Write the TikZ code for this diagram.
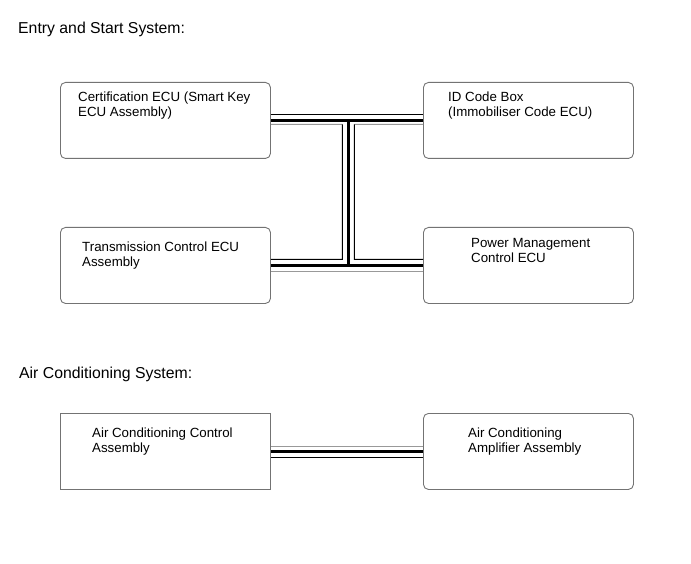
\documentclass[tikz,border=0pt]{standalone}
\usepackage{fontspec}
\setmainfont{Liberation Sans}
\usetikzlibrary{calc}

\begin{document}
\begin{tikzpicture}[x=1pt, y=-1pt,
  box/.style={draw=black!55, line width=0.9pt, rounded corners=5pt,
    minimum width=210pt, minimum height=76pt, anchor=north west, inner sep=0pt},
  lbl/.style={anchor=base west, align=left, inner sep=0pt,
    font=\fontsize{13.3}{15}\selectfont},
  ttl/.style={anchor=base west, inner sep=0pt, font=\fontsize{15.8}{18}\selectfont},
  wire/.style={line width=1pt, black},
  gwire/.style={line width=1pt, black!40},
  trunk/.style={line width=3.5pt, black}]
\useasboundingbox (0,0) rectangle (691,564);

% headings
\node[ttl] (essys) at (18,34) {Entry and Start System:};
\node[ttl] (acsys) at (19,378) {Air Conditioning System:};

% ECU boxes
\node[box] (cert) at (60,82) {};
\node[box] (idbox) at (423,82) {};
\node[box] (tcm) at (60,227) {};
\node[box] (pmecu) at (423,227) {};
\node[box, sharp corners] (acctrl) at (60,413) {};
\node[box] (acamp) at (423,413) {};

% box texts (base = last line)
\node[lbl] (certtxt) at (78,117) {Certification ECU (Smart Key\\ECU Assembly)};
\node[lbl] (idtxt) at (448,117) {ID Code Box\\(Immobiliser Code ECU)};
\node[lbl] (tcmtxt) at (82,267) {Transmission Control ECU\\Assembly};
\node[lbl] (pmtxt) at (471,263) {Power Management\\Control ECU};
\node[lbl] (acctrltxt) at (92,452) {Air Conditioning Control\\Assembly};
\node[lbl] (acamptxt) at (468,452) {Air Conditioning\\Amplifier Assembly};

% bus lines
\coordinate (jt) at ($(cert.east)!0.51!(idbox.west)$);
\coordinate (jb) at ($(tcm.east)!0.51!(pmecu.west)$);
\draw[wire] ([yshift=6pt]cert.east) -- ([yshift=6pt]idbox.west);
\draw[gwire] ([yshift=-4pt]cert.east) -- ([shift={(-6pt,-4pt)}]jt);
\draw[gwire] ([yshift=-4pt]idbox.west) -- ([shift={(6pt,-4pt)}]jt);
\draw[wire] ([shift={(-6pt,-4pt)}]jt) -- ([shift={(-6pt,6pt)}]jb) -- ([yshift=6pt]tcm.east);
\draw[wire] ([shift={(6pt,-4pt)}]jt) -- ([shift={(6pt,6pt)}]jb) -- ([yshift=6pt]pmecu.west);
\draw[gwire] ([yshift=-6pt]tcm.east) -- ([yshift=-6pt]pmecu.west);
\draw[trunk] (cert.east) -- (idbox.west);
\draw[trunk] (tcm.east) -- (pmecu.west);
\draw[trunk] (jt) -- (jb);

\draw[gwire] ([yshift=5pt]acctrl.east) -- ([yshift=5pt]acamp.west);
\draw[trunk] (acctrl.east) -- (acamp.west);
\draw[wire] ([yshift=-6pt]acctrl.east) -- ([yshift=-6pt]acamp.west);
\end{tikzpicture}
\end{document}
